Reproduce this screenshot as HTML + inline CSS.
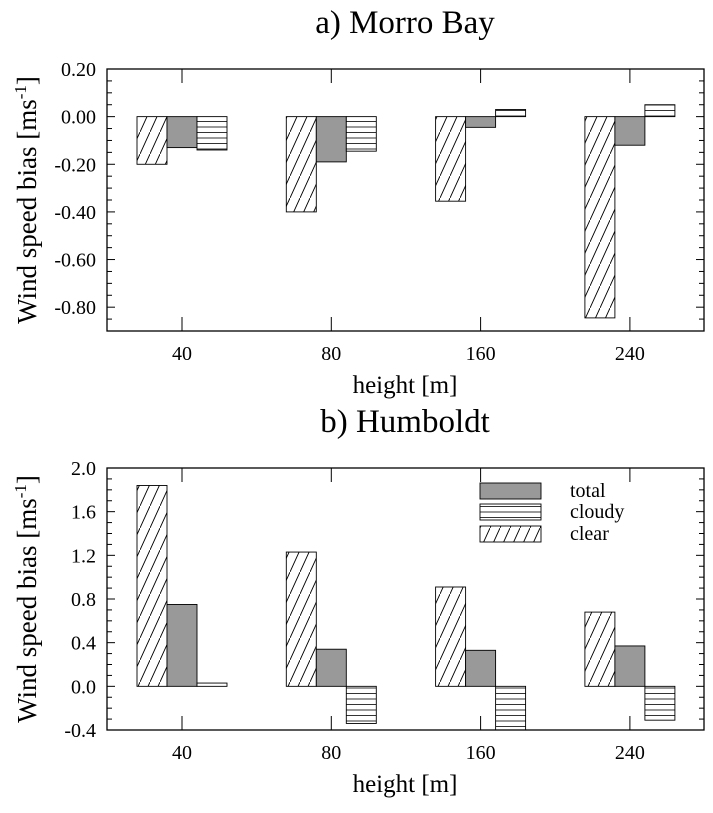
<!DOCTYPE html>
<html><head><meta charset="utf-8"><style>
body{margin:0;background:#fff}
svg text{font-family:"Liberation Serif",serif;fill:#000}
</style></head><body>
<svg id="c" width="713" height="808" xmlns="http://www.w3.org/2000/svg">
<defs>
<pattern id="diag" patternUnits="userSpaceOnUse" width="10" height="22" patternTransform="translate(0,0)">
<line x1="0" y1="22" x2="10" y2="0" stroke="#000" stroke-width="0.9"/>
</pattern>
<pattern id="horiz" patternUnits="userSpaceOnUse" width="10" height="5.5">
<line x1="0" y1="0.5" x2="10" y2="0.5" stroke="#000" stroke-width="0.8"/>
</pattern>
</defs>
</svg>
<script>
const categories=["40","80","160","240"];
const morroClear=[-0.20,-0.40,-0.355,-0.845];
const morroTotal=[-0.13,-0.19,-0.045,-0.12];
const morroCloudy=[-0.14,-0.145,0.03,0.05];
const humClear=[1.84,1.23,0.91,0.68];
const humTotal=[0.75,0.34,0.33,0.37];
const humCloudy=[0.03,-0.34,-0.40,-0.31];
const morroTicks=["0.20","0.00","-0.20","-0.40","-0.60","-0.80"];
const humTicks=["2.0","1.6","1.2","0.8","0.4","0.0","-0.4"];

const svg=document.getElementById('c');
const NS='http://www.w3.org/2000/svg';
function mk(tag,attrs,parent){const e=document.createElementNS(NS,tag);for(const k in attrs)e.setAttribute(k,attrs[k]);(parent||svg).appendChild(e);return e;}

function panel(cfg){
  const g=mk('g',{});
  
  
  const L=107,R=704,T=cfg.top,B=cfg.top+262;
  const y=v=>T+(cfg.ymax-v)/(cfg.ymax-cfg.ymin)*(B-T);
  const x=i=>182+i*149.3;
  const bw=30;
  const t=mk('text',{x:405,y:T-36,'text-anchor':'middle','font-size':33},g);
  t.textContent=cfg.title;
  
  
  const series=[[cfg.clear,'url(#diag)','clear'],[cfg.total,'#999','total'],[cfg.cloudy,'url(#horiz)','cloudy']];
  categories.forEach((c,i)=>{
    series.forEach((s,k)=>{
      const v=Math.max(s[0][i],cfg.ymin);
      const x0=x(i)-1.5*bw+k*bw;
      const y0=Math.min(y(v),y(0)),h=Math.abs(y(v)-y(0));
      if(s[1].startsWith('url'))mk('rect',{x:x0,y:y0,width:bw,height:h,fill:'#fff'},g);
      const r=mk('rect',{x:x0,y:y0,width:bw,height:h,fill:s[1],stroke:'#000','stroke-width':0.9},g);
      
      
    });
    const lb=mk('text',{x:x(i),y:B+29,'text-anchor':'middle','font-size':20},g);
    lb.textContent=c;
    
    
    mk('line',{x1:x(i),x2:x(i),y1:B,y2:B-14,stroke:'#000','stroke-width':1},g);
    mk('line',{x1:x(i),x2:x(i),y1:T,y2:T+14,stroke:'#000','stroke-width':1},g);
  });
  for(let v=cfg.ymin;v<=cfg.ymax+1e-9;v+=cfg.minor){
    const yy=y(v);const major=Math.abs(Math.round(v/cfg.major)*cfg.major-v)<1e-6;
    const len=major?8:5;
    mk('line',{x1:L,x2:L+len,y1:yy,y2:yy,stroke:'#000','stroke-width':1},g);
    mk('line',{x1:R,x2:R-len,y1:yy,y2:yy,stroke:'#000','stroke-width':1},g);
  }
  cfg.ticks.forEach(s=>{
    const tl=mk('text',{x:96,y:y(parseFloat(s))+7,'text-anchor':'end','font-size':20},g);
    tl.textContent=s;
    
    
  });
  mk('rect',{x:L,y:T,width:R-L,height:B-T,fill:'none',stroke:'#000','stroke-width':1.3},g);
  const xt=mk('text',{x:405,y:B+62,'text-anchor':'middle','font-size':25},g);
  xt.textContent='height [m]';
  
  
  const yt=mk('text',{x:0,y:0,'text-anchor':'middle','font-size':27,transform:`translate(36,${(T+B)/2}) rotate(-90)`},g);
  yt.innerHTML='Wind speed bias [ms<tspan dy="-10" font-size="17">-1</tspan><tspan dy="10">]</tspan>';
  
  
  return g;
}
panel({name:'panel-morro-bay',title:'a) Morro Bay',top:69,ymin:-0.9,ymax:0.2,major:0.2,minor:0.05,ticks:morroTicks,clear:morroClear,total:morroTotal,cloudy:morroCloudy});
const g2=panel({name:'panel-humboldt',title:'b) Humboldt',top:468,ymin:-0.4,ymax:2.0,major:0.4,minor:0.1,ticks:humTicks,clear:humClear,total:humTotal,cloudy:humCloudy});
const leg=mk('g',{},g2);


[['total','#999',483],['cloudy','url(#horiz)',504],['clear','url(#diag)',526]].forEach(d=>{
  if(d[1].startsWith('url'))mk('rect',{x:480,y:d[2],width:61,height:16,fill:'#fff'},leg);
  mk('rect',{x:480,y:d[2],width:61,height:16,fill:d[1],stroke:'#000','stroke-width':0.9},leg);
  const t=mk('text',{x:570,y:d[2]+14,'font-size':20},leg);
  t.textContent=d[0];
  
  
});
</script>
</body></html>
